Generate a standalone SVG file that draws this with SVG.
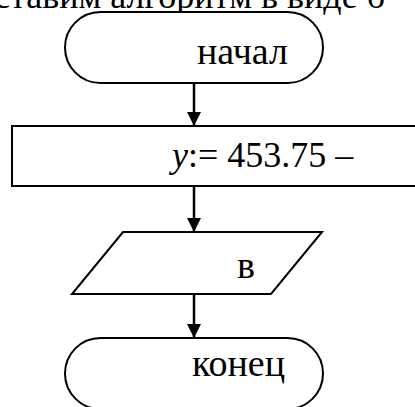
<svg xmlns="http://www.w3.org/2000/svg" width="415" height="407" viewBox="0 0 415 407">
<defs>
<marker id="ah" markerUnits="userSpaceOnUse" markerWidth="14" markerHeight="15" refX="14" refY="7" orient="auto" viewBox="0 0 14 14">
<path d="M0,0 L14,7 L0,14 Z" fill="#000"/>
</marker>
</defs>
<rect width="415" height="407" fill="#fff"/>
<text font-family="Liberation Serif" font-size="36" x="-6" y="8">ставим алгоритм в виде б</text>
<g id="connectors" stroke="#000" stroke-width="2.5" fill="none">
<line x1="194" y1="83" x2="194" y2="126" marker-end="url(#ah)"/>
<line x1="194" y1="186" x2="194" y2="232" marker-end="url(#ah)"/>
<line x1="194" y1="294" x2="194" y2="338" marker-end="url(#ah)"/>
</g>
<g id="start">
<rect fill="#fff" stroke="#000" stroke-width="2" x="65" y="12" width="258" height="71" rx="35.5" ry="35.5"/>
<text font-family="Liberation Serif" font-size="38" x="197" y="64">начал</text>
</g>
<g id="process">
<rect fill="#fff" stroke="#000" stroke-width="2" x="12" y="126" width="420" height="60"/>
<text font-family="Liberation Serif" font-size="36" x="172" y="167"><tspan font-style="italic">y</tspan>:= 453.75 –</text>
</g>
<g id="io">
<polygon fill="#fff" stroke="#000" stroke-width="2" points="123,232 322,232 271,294 72,294"/>
<text font-family="Liberation Serif" font-size="38" x="237" y="278">в</text>
</g>
<g id="end">
<rect fill="#fff" stroke="#000" stroke-width="2" x="65" y="338" width="258" height="71" rx="35.5" ry="35.5"/>
<text font-family="Liberation Serif" font-size="38" x="192" y="376">конец</text>
</g>
</svg>
